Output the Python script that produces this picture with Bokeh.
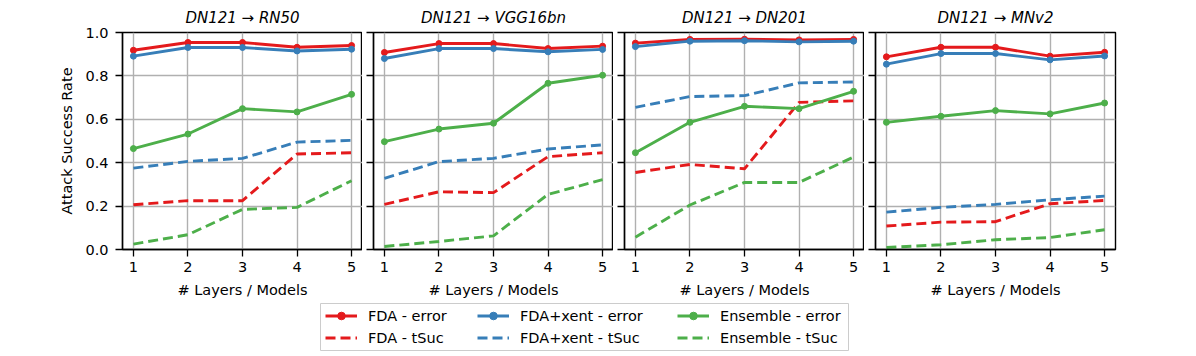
import numpy as np
from bokeh.plotting import figure
from bokeh.layouts import row, column
from bokeh.models import FixedTicker, NumeralTickFormatter, Range1d, Legend, LegendItem
from bokeh.embed import file_html
from bokeh.resources import INLINE

# ---------------- data ----------------
X = [1, 2, 3, 4, 5]
Y_TICKS = [0.0, 0.2, 0.4, 0.6, 0.8, 1.0]
TITLES = ["DN121 \u2192 RN50", "DN121 \u2192 VGG16bn", "DN121 \u2192 DN201", "DN121 \u2192 MNv2"]
SERIES_NAMES = ["FDA", "FDA+xent", "Ensemble"]

# error curves (one list per panel)
FDA_ERROR = [
    [0.918, 0.954, 0.954, 0.932, 0.940],
    [0.908, 0.949, 0.949, 0.926, 0.937],
    [0.951, 0.968, 0.969, 0.966, 0.968],
    [0.888, 0.932, 0.932, 0.891, 0.909],
]
XENT_ERROR = [
    [0.891, 0.931, 0.931, 0.915, 0.923],
    [0.880, 0.926, 0.926, 0.911, 0.922],
    [0.935, 0.960, 0.962, 0.957, 0.960],
    [0.854, 0.903, 0.903, 0.874, 0.892],
]
ENS_ERROR = [
    [0.465, 0.532, 0.649, 0.634, 0.715],
    [0.497, 0.555, 0.582, 0.766, 0.803],
    [0.446, 0.586, 0.660, 0.649, 0.729],
    [0.586, 0.614, 0.640, 0.625, 0.675],
]
# tSuc curves
FDA_TSUC = [
    [0.206, 0.225, 0.225, 0.440, 0.446],
    [0.208, 0.266, 0.262, 0.428, 0.446],
    [0.355, 0.392, 0.372, 0.678, 0.685],
    [0.108, 0.126, 0.128, 0.211, 0.226],
]
XENT_TSUC = [
    [0.375, 0.406, 0.420, 0.495, 0.503],
    [0.328, 0.405, 0.420, 0.463, 0.482],
    [0.655, 0.705, 0.709, 0.768, 0.772],
    [0.172, 0.194, 0.208, 0.229, 0.246],
]
ENS_TSUC = [
    [0.025, 0.068, 0.185, 0.194, 0.317],
    [0.014, 0.037, 0.063, 0.254, 0.322],
    [0.057, 0.205, 0.309, 0.309, 0.426],
    [0.009, 0.022, 0.045, 0.055, 0.091],
]

# ---------------- style ----------------
RED, BLUE, GREEN = "#e41a1c", "#377eb8", "#4daf4a"
COLORS = [RED, BLUE, GREEN]
FONT = "DejaVu Sans"
FS = "14.5px"
LW = 2.9
DASH = "10 5"
MSIZE = 6


def make_panel(i):
    first = i == 0
    last = i == 3
    p = figure(
        frame_width=240, frame_height=217,
        min_border_left=122 if first else 11,
        min_border_right=10 if last else 0,
        min_border_top=31, min_border_bottom=50,
        x_range=Range1d(0.8, 5.2), y_range=Range1d(0.0, 1.0),
        toolbar_location=None, output_backend="svg",
        background_fill_color="white", border_fill_color="white",
    )
    p.title.text = TITLES[i]
    p.title.align = "center"
    p.title.text_font = FONT
    p.title.text_font_size = "15px"
    p.title.text_font_style = "italic"
    p.title.text_color = "black"
    p.title.standoff = 12

    p.outline_line_color = "black"
    p.outline_line_width = 1.4
    p.outline_line_alpha = 1.0

    for ax in (p.xaxis, p.yaxis):
        ax.axis_line_color = "black"
        ax.axis_line_width = 1.4
        ax.major_tick_line_color = "black"
        ax.major_tick_line_width = 1.3
        ax.major_tick_out = 7
        ax.major_tick_in = 0
        ax.minor_tick_line_color = None
        ax.major_label_text_font = FONT
        ax.major_label_text_font_size = FS
        ax.major_label_text_color = "black"
        ax.axis_label_text_font = FONT
        ax.axis_label_text_font_size = FS
        ax.axis_label_text_font_style = "normal"
        ax.axis_label_text_color = "black"

    p.xaxis.ticker = FixedTicker(ticks=X)
    p.xaxis.major_label_standoff = 5
    p.xaxis.axis_label = "# Layers / Models"
    p.xaxis.axis_label_standoff = 7

    p.yaxis.ticker = FixedTicker(ticks=Y_TICKS)
    p.yaxis.formatter = NumeralTickFormatter(format="0.0")
    if first:
        p.yaxis.major_label_standoff = 7
        p.yaxis.axis_label = "Attack Success Rate"
        p.yaxis.axis_label_standoff = 7
    else:
        p.yaxis.major_label_text_font_size = "0px"
        p.yaxis.major_label_text_color = None
        p.yaxis.major_label_standoff = 0

    for g in (p.xgrid, p.ygrid):
        g.grid_line_color = "#b0b0b0"
        g.grid_line_width = 1.4

    err = [FDA_ERROR[i], XENT_ERROR[i], ENS_ERROR[i]]
    tsuc = [FDA_TSUC[i], XENT_TSUC[i], ENS_TSUC[i]]
    for k in range(3):
        p.line(X, err[k], line_color=COLORS[k], line_width=LW)
        p.scatter(X, err[k], size=MSIZE, fill_color=COLORS[k], line_color=COLORS[k])
        p.line(X, tsuc[k], line_color=COLORS[k], line_width=LW, line_dash=DASH)
    return p


panels = [make_panel(i) for i in range(4)]

# ---------------- legend ----------------
lp = figure(
    frame_width=529, frame_height=47,
    min_border_left=320, min_border_right=0, min_border_top=3, min_border_bottom=2,
    x_range=Range1d(0, 1), y_range=Range1d(0, 1),
    x_axis_location=None, y_axis_location=None,
    toolbar_location=None, output_backend="svg",
    background_fill_color="white", border_fill_color="white",
)
lp.grid.visible = False
lp.outline_line_color = "#cccccc"
lp.outline_line_width = 1.0

NAN = np.array([np.nan])
LEG_X = [5, 157, 357]
for k, name in enumerate(SERIES_NAMES):
    lr = lp.line(x=NAN, y=NAN, line_color=COLORS[k], line_width=LW)
    ls = lp.scatter(x=NAN, y=NAN, size=5, fill_color=COLORS[k], line_color=COLORS[k])
    dr = lp.line(x=NAN, y=NAN, line_color=COLORS[k], line_width=LW, line_dash=DASH)
    leg = Legend(
        items=[LegendItem(label=f"{name} - error", renderers=[lr, ls]),
               LegendItem(label=f"{name} - tSuc", renderers=[dr])],
        location=(LEG_X[k], 3),
        orientation="vertical",
        border_line_color=None, background_fill_alpha=0.0,
        padding=0, margin=0, spacing=3,
        glyph_width=32, glyph_height=19, label_height=19, label_standoff=11,
        label_text_font=FONT, label_text_font_size=FS, label_text_color="black",
    )
    lp.add_layout(leg)

layout = column(row(*panels), lp)
open("out.html", "w").write(file_html(layout, INLINE))
